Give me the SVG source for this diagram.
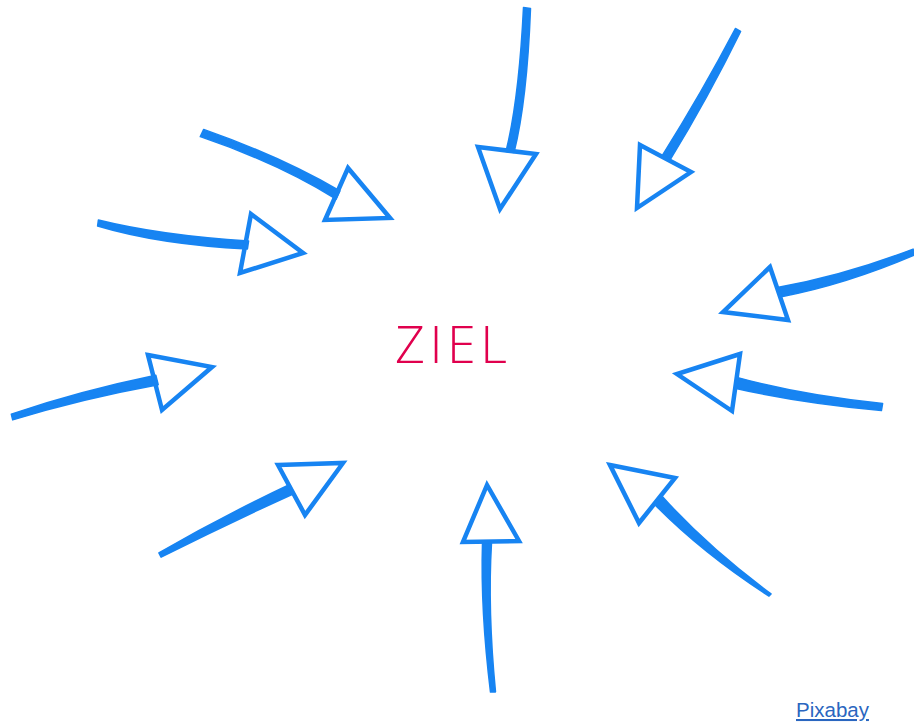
<svg xmlns="http://www.w3.org/2000/svg" width="914" height="723" viewBox="0 0 914 723">
<style>
.shaft{fill:#1784f2;stroke:#1784f2;stroke-width:1.5;stroke-linejoin:round}
.head{fill:none;stroke:#1784f2;stroke-width:4.5;stroke-linejoin:miter;stroke-miterlimit:10}
.ziel{font-family:"Open Sans","Liberation Sans",sans-serif;font-weight:300;font-size:52px;fill:#e0004d}
.credit{font-family:"Liberation Sans",Arial,sans-serif;font-size:20.5px;fill:#2a66c0;text-decoration:underline}
</style>
<rect width="914" height="723" fill="#ffffff"/>
<g id="arrows">
<g id="arrow-top">
<path class="shaft" d="M530.5,8.4 Q527,100.5 514,152.5 L506,151.5 Q519,99.5 523.5,7.6 Z"/>
<polygon class="head" points="478,147 536,154 500,209"/>
</g>
<g id="arrow-top-right">
<path class="shaft" d="M740.6,31.5 Q708.5,97 669.9,160.2 L662.1,155.8 Q701.5,93 735.4,28.5 Z"/>
<polygon class="head" points="640,145 691,172 637,208"/>
</g>
<g id="arrow-upper-left">
<path class="shaft" d="M203.7,129.4 Q281.5,156.8 339.9,190.9 L336.1,199.1 Q278.5,163.2 200.3,136.6 Z"/>
<polygon class="head" points="348,168 390,218 325,220"/>
</g>
<g id="arrow-left-upper">
<path class="shaft" d="M98.4,220 Q160.7,235.5 248.6,241 L247.4,249 Q159.3,244.5 97.6,226 Z"/>
<polygon class="head" points="251,214 303,253 240,273"/>
</g>
<g id="arrow-right-upper">
<path class="shaft" d="M913.1,249.1 Q843.7,275.7 778.6,287.2 L781.4,296.8 Q846.3,284.3 914.9,254.9 Z"/>
<polygon class="head" points="770,267 723,312 788,320"/>
</g>
<g id="arrow-right-middle">
<path class="shaft" d="M882.6,403.5 Q800.7,395.1 737.9,377.6 L736.1,388.4 Q799.3,402.9 881.4,410.5 Z"/>
<polygon class="head" points="740,354 677,374 732,411"/>
</g>
<g id="arrow-left-middle">
<path class="shaft" d="M11.3,414.1 Q79,391.1 155.8,375.2 L158.2,384.8 Q81,398.9 12.7,419.9 Z"/>
<polygon class="head" points="148,355 212,367 162,410"/>
</g>
<g id="arrow-lower-left">
<path class="shaft" d="M158.9,552.8 Q223,516 289.8,484.5 L294.2,493.5 Q227,524 161.1,557.2 Z"/>
<polygon class="head" points="278,465 343,463 305,515"/>
</g>
<g id="arrow-bottom">
<path class="shaft" d="M495.5,691.9 Q487.5,609.9 491.5,542.8 L482.5,543.2 Q480.5,610.1 490.5,692.1 Z"/>
<polygon class="head" points="487,485 463,542 519,541"/>
</g>
<g id="arrow-lower-right">
<path class="shaft" d="M771,593.9 Q707.6,546.9 661.6,495.8 L654.4,504.2 Q702.4,553.1 769,596.1 Z"/>
<polygon class="head" points="610,465 675,478 639,523"/>
</g>
</g>
<g id="goal">
<text class="ziel" x="395" y="363" textLength="112" lengthAdjust="spacing">ZIEL</text>
</g>
<g id="credit">
<text class="credit" x="796" y="717">Pixabay</text>
</g>
</svg>
